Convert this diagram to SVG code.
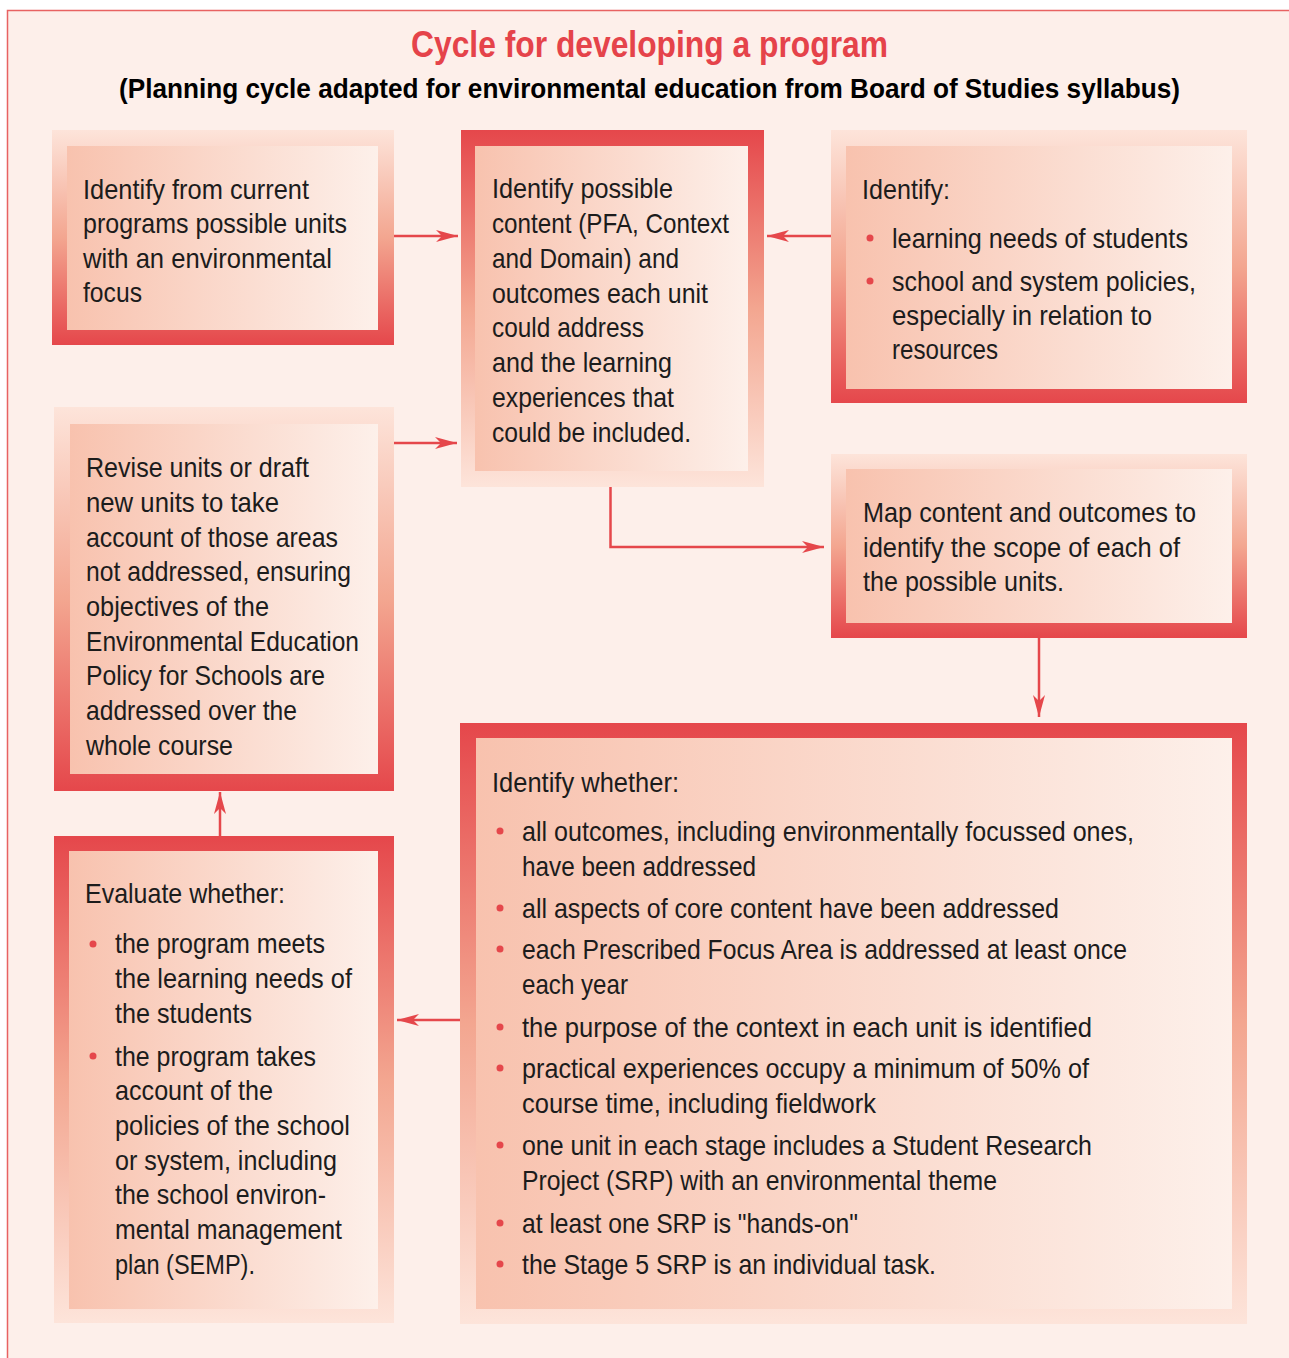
<svg xmlns="http://www.w3.org/2000/svg" width="1289" height="1358" viewBox="0 0 1289 1358">
<style>
.t{font-family:"Liberation Sans",Arial,sans-serif;font-size:28px;fill:#1c1c1c}
.title{font-family:"Liberation Sans",Arial,sans-serif;font-size:36px;font-weight:bold;fill:#e5434a}
.sub{font-family:"Liberation Sans",Arial,sans-serif;font-size:28px;font-weight:bold;fill:#000}
.dot{fill:#e5474b}
.inner{fill:url(#gIn)}
.up{fill:url(#gUp)}
.down{fill:url(#gDown)}
.con{stroke:#e5474b;stroke-width:2.5;fill:none;marker-end:url(#arr)}
</style>
<defs>
<linearGradient id="gIn" x1="0" y1="0" x2="1" y2="0">
<stop offset="0" stop-color="#f8c2ae"/>
<stop offset="1" stop-color="#fdf0ea"/>
</linearGradient>
<linearGradient id="gUp" x1="0" y1="0" x2="0" y2="1">
<stop offset="0" stop-color="#fde4da"/>
<stop offset="0.5" stop-color="#f3a690"/>
<stop offset="1" stop-color="#e5474b"/>
</linearGradient>
<linearGradient id="gDown" x1="0" y1="0" x2="0" y2="1">
<stop offset="0" stop-color="#e5474b"/>
<stop offset="0.5" stop-color="#f3a690"/>
<stop offset="1" stop-color="#fde4da"/>
</linearGradient>
<marker id="arr" viewBox="0 0 22 12" refX="22" refY="6" markerWidth="22" markerHeight="12" markerUnits="userSpaceOnUse" orient="auto">
<path d="M0,0 L22,6 L0,12 L6,6 z" fill="#e5474b"/>
</marker>
</defs>

<rect x="7.5" y="10.5" width="1300" height="1360" fill="#fdefea" stroke="#e86262" stroke-width="1.5"/>

<g id="heading">
<text class="title" x="411" y="57" textLength="477" lengthAdjust="spacingAndGlyphs">Cycle for developing a program</text>
<text class="sub" x="119" y="98" textLength="1061" lengthAdjust="spacingAndGlyphs">(Planning cycle adapted for environmental education from Board of Studies syllabus)</text>
</g>

<g id="connectors">
<line class="con" x1="394" y1="236" x2="458" y2="236"/>
<line class="con" x1="831" y1="236" x2="767" y2="236"/>
<line class="con" x1="394" y1="443" x2="457" y2="443"/>
<polyline class="con" points="610.5,487 610.5,547 824,547"/>
<line class="con" x1="1039" y1="638" x2="1039" y2="717"/>
<line class="con" x1="460" y1="1020" x2="397" y2="1020"/>
<line class="con" x1="220" y1="836" x2="220" y2="792"/>
</g>

<g id="node-current-programs">
<rect class="up" x="52" y="130" width="342" height="215"/>
<rect class="inner" x="67" y="146" width="311" height="184"/>
<text class="t" x="83" y="199" textLength="226" lengthAdjust="spacingAndGlyphs">Identify from current</text>
<text class="t" x="83" y="233" textLength="264" lengthAdjust="spacingAndGlyphs">programs possible units</text>
<text class="t" x="83" y="268" textLength="249" lengthAdjust="spacingAndGlyphs">with an environmental</text>
<text class="t" x="83" y="302" textLength="59" lengthAdjust="spacingAndGlyphs">focus</text>
</g>

<g id="node-identify-content">
<rect class="down" x="461" y="130" width="303" height="357"/>
<rect class="inner" x="475" y="146" width="273" height="325"/>
<text class="t" x="492" y="198" textLength="181" lengthAdjust="spacingAndGlyphs">Identify possible</text>
<text class="t" x="492" y="233" textLength="237" lengthAdjust="spacingAndGlyphs">content (PFA, Context</text>
<text class="t" x="492" y="268" textLength="187" lengthAdjust="spacingAndGlyphs">and Domain) and</text>
<text class="t" x="492" y="303" textLength="216" lengthAdjust="spacingAndGlyphs">outcomes each unit</text>
<text class="t" x="492" y="337" textLength="152" lengthAdjust="spacingAndGlyphs">could address</text>
<text class="t" x="492" y="372" textLength="180" lengthAdjust="spacingAndGlyphs">and the learning</text>
<text class="t" x="492" y="407" textLength="182" lengthAdjust="spacingAndGlyphs">experiences that</text>
<text class="t" x="492" y="442" textLength="199" lengthAdjust="spacingAndGlyphs">could be included.</text>
</g>

<g id="node-identify-needs">
<rect class="up" x="831" y="130" width="416" height="273"/>
<rect class="inner" x="846" y="146" width="386" height="243"/>
<text class="t" x="862" y="199" textLength="88" lengthAdjust="spacingAndGlyphs">Identify:</text>
<circle class="dot" cx="870" cy="238" r="3.5"/>
<text class="t" x="892" y="248" textLength="296" lengthAdjust="spacingAndGlyphs">learning needs of students</text>
<circle class="dot" cx="870" cy="281" r="3.5"/>
<text class="t" x="892" y="291" textLength="304" lengthAdjust="spacingAndGlyphs">school and system policies,</text>
<text class="t" x="892" y="325" textLength="260" lengthAdjust="spacingAndGlyphs">especially in relation to</text>
<text class="t" x="892" y="359" textLength="106" lengthAdjust="spacingAndGlyphs">resources</text>
</g>

<g id="node-revise">
<rect class="up" x="54" y="407" width="340" height="384"/>
<rect class="inner" x="70" y="424" width="308" height="350"/>
<text class="t" x="86" y="477" textLength="223" lengthAdjust="spacingAndGlyphs">Revise units or draft</text>
<text class="t" x="86" y="512" textLength="193" lengthAdjust="spacingAndGlyphs">new units to take</text>
<text class="t" x="86" y="547" textLength="252" lengthAdjust="spacingAndGlyphs">account of those areas</text>
<text class="t" x="86" y="581" textLength="265" lengthAdjust="spacingAndGlyphs">not addressed, ensuring</text>
<text class="t" x="86" y="616" textLength="183" lengthAdjust="spacingAndGlyphs">objectives of the</text>
<text class="t" x="86" y="651" textLength="273" lengthAdjust="spacingAndGlyphs">Environmental Education</text>
<text class="t" x="86" y="685" textLength="239" lengthAdjust="spacingAndGlyphs">Policy for Schools are</text>
<text class="t" x="86" y="720" textLength="211" lengthAdjust="spacingAndGlyphs">addressed over the</text>
<text class="t" x="86" y="755" textLength="147" lengthAdjust="spacingAndGlyphs">whole course</text>
</g>

<g id="node-map">
<rect class="up" x="831" y="454" width="416" height="184"/>
<rect class="inner" x="846" y="469" width="386" height="154"/>
<text class="t" x="863" y="522" textLength="333" lengthAdjust="spacingAndGlyphs">Map content and outcomes to</text>
<text class="t" x="863" y="557" textLength="317" lengthAdjust="spacingAndGlyphs">identify the scope of each of</text>
<text class="t" x="863" y="591" textLength="201" lengthAdjust="spacingAndGlyphs">the possible units.</text>
</g>

<g id="node-identify-whether">
<rect class="down" x="460" y="723" width="787" height="601"/>
<rect class="inner" x="476" y="738" width="756" height="571"/>
<text class="t" x="492" y="792" textLength="187" lengthAdjust="spacingAndGlyphs">Identify whether:</text>
<circle class="dot" cx="500" cy="831" r="3.5"/>
<text class="t" x="522" y="841" textLength="612" lengthAdjust="spacingAndGlyphs">all outcomes, including environmentally focussed ones,</text>
<text class="t" x="522" y="876" textLength="234" lengthAdjust="spacingAndGlyphs">have been addressed</text>
<circle class="dot" cx="500" cy="908" r="3.5"/>
<text class="t" x="522" y="918" textLength="537" lengthAdjust="spacingAndGlyphs">all aspects of core content have been addressed</text>
<circle class="dot" cx="500" cy="949" r="3.5"/>
<text class="t" x="522" y="959" textLength="605" lengthAdjust="spacingAndGlyphs">each Prescribed Focus Area is addressed at least once</text>
<text class="t" x="522" y="994" textLength="106" lengthAdjust="spacingAndGlyphs">each year</text>
<circle class="dot" cx="500" cy="1027" r="3.5"/>
<text class="t" x="522" y="1037" textLength="570" lengthAdjust="spacingAndGlyphs">the purpose of the context in each unit is identified</text>
<circle class="dot" cx="500" cy="1068" r="3.5"/>
<text class="t" x="522" y="1078" textLength="567" lengthAdjust="spacingAndGlyphs">practical experiences occupy a minimum of 50% of</text>
<text class="t" x="522" y="1113" textLength="354" lengthAdjust="spacingAndGlyphs">course time, including fieldwork</text>
<circle class="dot" cx="500" cy="1145" r="3.5"/>
<text class="t" x="522" y="1155" textLength="570" lengthAdjust="spacingAndGlyphs">one unit in each stage includes a Student Research</text>
<text class="t" x="522" y="1190" textLength="475" lengthAdjust="spacingAndGlyphs">Project (SRP) with an environmental theme</text>
<circle class="dot" cx="500" cy="1223" r="3.5"/>
<text class="t" x="522" y="1233" textLength="336" lengthAdjust="spacingAndGlyphs">at least one SRP is "hands-on"</text>
<circle class="dot" cx="500" cy="1264" r="3.5"/>
<text class="t" x="522" y="1274" textLength="414" lengthAdjust="spacingAndGlyphs">the Stage 5 SRP is an individual task.</text>
</g>

<g id="node-evaluate">
<rect class="down" x="54" y="836" width="340" height="487"/>
<rect class="inner" x="69" y="851" width="309" height="458"/>
<text class="t" x="85" y="903" textLength="200" lengthAdjust="spacingAndGlyphs">Evaluate whether:</text>
<circle class="dot" cx="93" cy="944" r="3.5"/>
<text class="t" x="115" y="953" textLength="210" lengthAdjust="spacingAndGlyphs">the program meets</text>
<text class="t" x="115" y="988" textLength="237" lengthAdjust="spacingAndGlyphs">the learning needs of</text>
<text class="t" x="115" y="1023" textLength="137" lengthAdjust="spacingAndGlyphs">the students</text>
<circle class="dot" cx="93" cy="1056" r="3.5"/>
<text class="t" x="115" y="1066" textLength="201" lengthAdjust="spacingAndGlyphs">the program takes</text>
<text class="t" x="115" y="1100" textLength="158" lengthAdjust="spacingAndGlyphs">account of the</text>
<text class="t" x="115" y="1135" textLength="235" lengthAdjust="spacingAndGlyphs">policies of the school</text>
<text class="t" x="115" y="1170" textLength="222" lengthAdjust="spacingAndGlyphs">or system, including</text>
<text class="t" x="115" y="1204" textLength="211" lengthAdjust="spacingAndGlyphs">the school environ-</text>
<text class="t" x="115" y="1239" textLength="227" lengthAdjust="spacingAndGlyphs">mental management</text>
<text class="t" x="115" y="1274" textLength="140" lengthAdjust="spacingAndGlyphs">plan (SEMP).</text>
</g>
</svg>
